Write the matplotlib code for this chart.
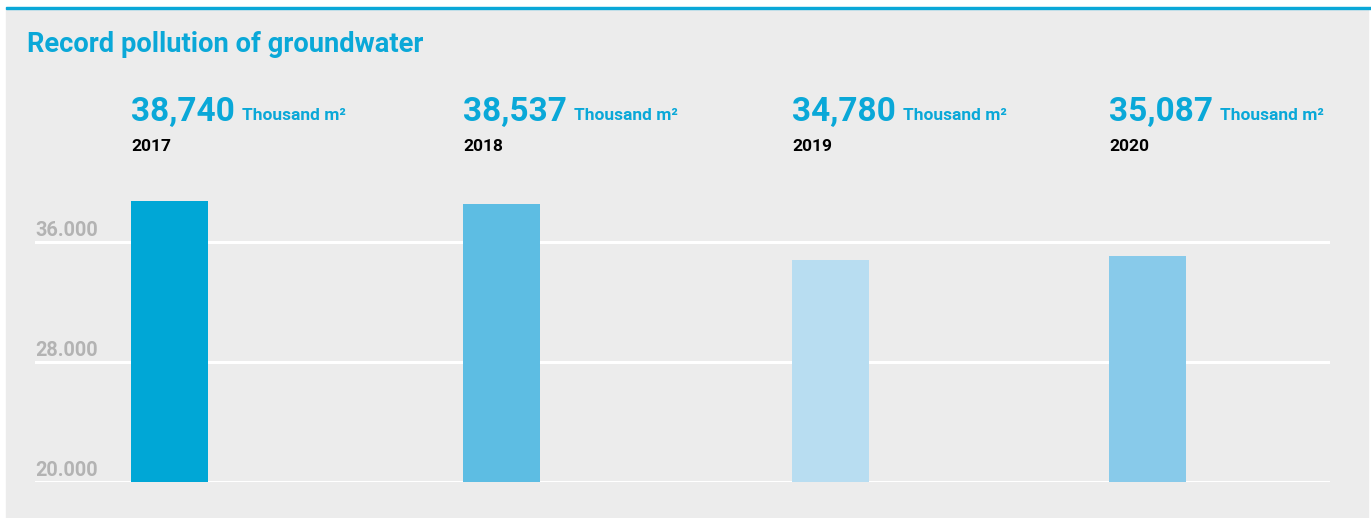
import matplotlib
matplotlib.use('Agg')
import matplotlib.pyplot as plt
from matplotlib.patches import Rectangle
from matplotlib.transforms import blended_transform_factory, offset_copy

# groundwater pollution per year, thousand m2
years = ['2017', '2018', '2019', '2020']
values = [38740, 38537, 34780, 35087]
value_labels = ['38,740', '38,537', '34,780', '35,087']
bar_colors = ['#00a7d6', '#5dbde3', '#b8ddf1', '#88caea']
grid_values = [20000, 28000, 36000]
grid_labels = ['20.000', '28.000', '36.000']

W, H = 1371, 518
BLUE = '#0aa8d8'
plt.rcParams['font.family'] = ['Roboto', 'DejaVu Sans']

fig = plt.figure(figsize=(W / 100, H / 100), dpi=100, facecolor='white')

# grey panel and the thin blue rule on top
fig.add_artist(Rectangle((6 / W, 0), (1368 - 6) / W, (H - 9) / H,
                         transform=fig.transFigure, color='#ececec', zorder=0))
fig.add_artist(Rectangle((6 / W, (H - 9) / H), 1 - 6 / W, 2 / H,
                         transform=fig.transFigure, color=BLUE, zorder=1))

fig.text(27 / W, 1 - 52 / H, 'Record pollution of groundwater', color=BLUE,
         fontsize=19.7, fontweight='bold', va='baseline', ha='left')

# plot area: 20.000 at y=482px, 15px per 1000
y_lo, y_hi = 20000, 20000 + (482 - 180) / 15 * 1000
ax = fig.add_axes([35 / W, 36 / H, (1330 - 35) / W, (482 - 180) / H])
ax.set_xlim(35, 1330)
ax.set_ylim(y_lo, y_hi)
ax.patch.set_visible(False)
for s in ax.spines.values():
    s.set_visible(False)
ax.set_xticks([])
ax.set_yticks(grid_values)
ax.set_yticklabels([])
ax.tick_params(left=False)
ax.yaxis.grid(True, color='white', linewidth=2.2)
ax.set_axisbelow(True)

bar_left = [131, 463, 792, 1109]
ax.bar(bar_left, [v - y_lo for v in values], bottom=y_lo, width=77,
       align='edge', color=bar_colors, zorder=3)

trans = offset_copy(blended_transform_factory(ax.transData, ax.transData),
                    fig=fig, x=0, y=6, units='dots')
for v, lab in zip(grid_values, grid_labels):
    ax.text(35, v, lab, transform=trans, color='#b3b3b3', fontsize=14.3,
            fontweight='bold', va='baseline', ha='left', clip_on=False)

# value headers above each bar
for x, lab, yr in zip(bar_left, value_labels, years):
    big = fig.text(x / W, 1 - 121 / H, lab, color=BLUE, fontsize=24,
                   fontweight='bold', va='baseline', ha='left')
    fig.canvas.draw()
    bb = big.get_window_extent()
    fig.text((bb.x1 + 7) / W, 1 - 120 / H, 'Thousand m²', color=BLUE,
             fontsize=12.5, fontweight='bold', va='baseline', ha='left')
    fig.text(x / W, 1 - 151 / H, yr, color='black', fontsize=12.5,
             fontweight='bold', va='baseline', ha='left')

fig.savefig('out.png', dpi=100, facecolor='white')
